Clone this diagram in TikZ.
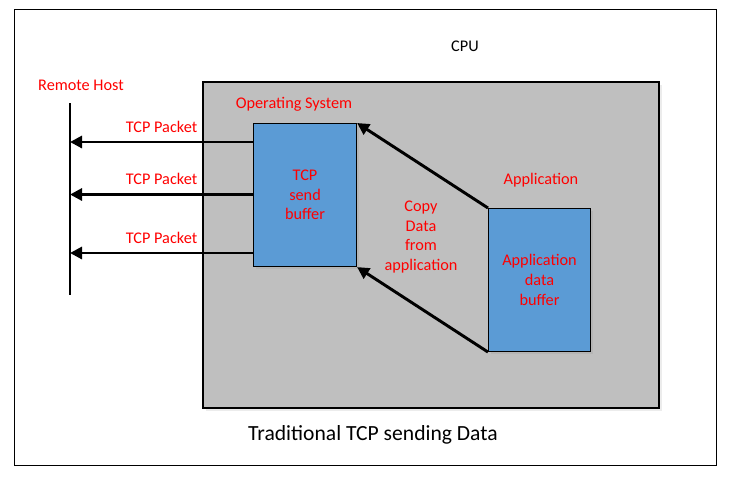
\documentclass[tikz,border=0pt]{standalone}
\usepackage{fontspec}
\setmainfont{Carlito}
\usepackage{xcolor}
\usetikzlibrary{arrows.meta, positioning, shadows}

\definecolor{osgray}{HTML}{BFBFBF}
\definecolor{bufblue}{HTML}{5B9BD5}
\definecolor{lblred}{HTML}{FF0000}

\begin{document}
\begin{tikzpicture}[
    x=0.75pt, y=-0.75pt,
    lbl/.style={text=lblred, font=\fontsize{12.2}{14.8}\selectfont, align=center, inner sep=0pt},
    buf/.style={rectangle, draw=black, line width=0.8pt, fill=bufblue, anchor=north west,
                drop shadow={opacity=0.15, shadow xshift=1.5pt, shadow yshift=-1.5pt}},
    arr/.style={-{Triangle[length=9pt, width=9pt]}, line width=2.2pt, draw=black}
]
\useasboundingbox (0,0) rectangle (732,483);
% frame and cpu area
\draw[line width=0.6pt, fill=white] (14,9) rectangle (716,465);
\draw[line width=0.8pt, fill=osgray, drop shadow={opacity=0.15, shadow xshift=2pt, shadow yshift=-2pt}]
    (203,82) rectangle (659,408);
\node[font=\fontsize{12.2}{14.8}\selectfont] (cpu) at (465,46) {CPU};
\node[font=\fontsize{16.2}{19}\selectfont] (title) at (373,435) {Traditional TCP sending Data};

% remote host
\node[lbl] (host) at (81,85) {Remote Host};
\coordinate (hosttop) at (70,103);
\coordinate (hostbot) at (70,295);
\draw[line width=2.2pt] (hosttop) -- (hostbot);

% buffers
\node[buf, minimum width=103*0.75pt, minimum height=143*0.75pt] (sendbuf) at (253,123) {};
\node[lbl] at (sendbuf.center) {TCP\\send\\buffer};
\node[buf, minimum width=102*0.75pt, minimum height=143*0.75pt] (appbuf) at (488,208) {};
\node[lbl] at (appbuf.center) {Application\\data\\buffer};

\node[lbl] (os) at (294,104) {Operating System};
\node[lbl] (app) at (541,180) {Application};
\node[lbl] (copy) at (421,237) {Copy\\Data\\from\\application};

% packets to the remote host
\foreach \dy/\nm in {19/a, 71.5/b, 130/c} {
  \coordinate (out\nm) at ([yshift=-\dy*0.75pt]sendbuf.north west);
  \draw[arr] (out\nm) -- node[lbl, above=6pt] {TCP Packet} (hosttop |- out\nm);
}

% copy from application
\draw[arr] (appbuf.north west) -- (sendbuf.north east);
\draw[arr] (appbuf.south west) -- (sendbuf.south east);
\end{tikzpicture}
\end{document}
